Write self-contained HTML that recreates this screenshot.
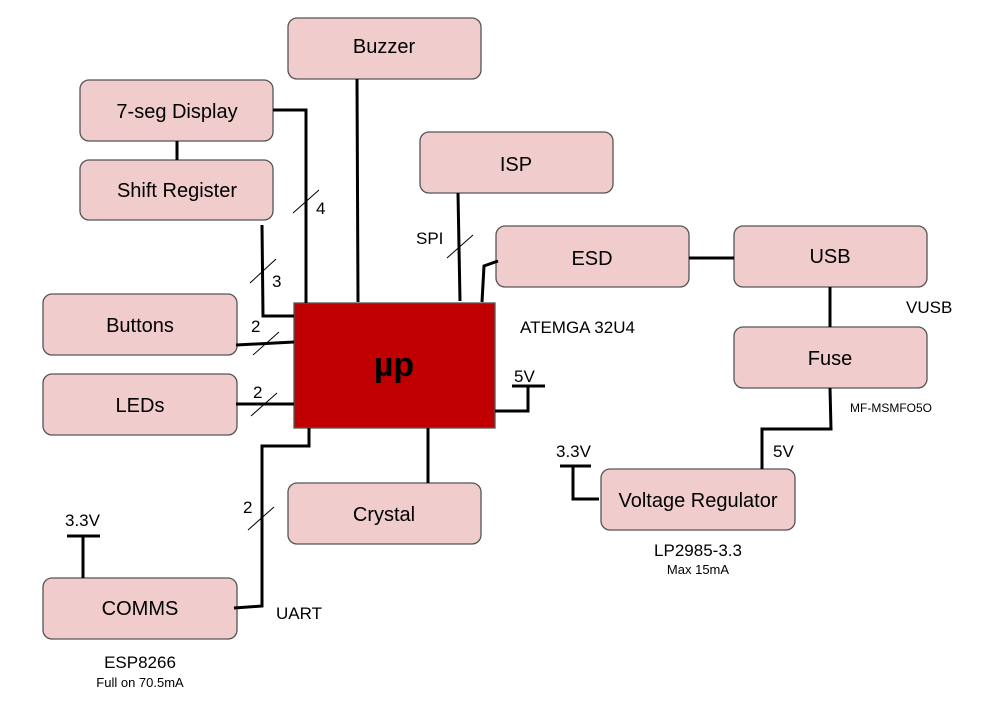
<!DOCTYPE html>
<html><head><meta charset="utf-8"><style>
html,body{margin:0;padding:0;background:#fff;width:981px;height:704px;overflow:hidden}
svg text{font-family:"Liberation Sans",Arial,sans-serif;fill:#000}
</style></head><body>
<svg width="981" height="704" viewBox="0 0 981 704" xmlns="http://www.w3.org/2000/svg">
<g fill="#f0cccc" stroke="#555" stroke-width="1.3">
<rect x="288" y="18" width="193" height="61" rx="9"/>
<rect x="80" y="80" width="193" height="61" rx="9"/>
<rect x="80" y="160" width="193" height="60" rx="9"/>
<rect x="420" y="132" width="193" height="61" rx="9"/>
<rect x="496" y="226" width="193" height="61" rx="9"/>
<rect x="734" y="226" width="193" height="61" rx="9"/>
<rect x="734" y="327" width="193" height="61" rx="9"/>
<rect x="43" y="294" width="194" height="61" rx="9"/>
<rect x="43" y="374" width="194" height="61" rx="9"/>
<rect x="288" y="483" width="193" height="61" rx="9"/>
<rect x="43" y="578" width="194" height="61" rx="9"/>
<rect x="601" y="469" width="194" height="61" rx="9"/>
</g>
<rect x="294" y="303" width="201" height="125" fill="#c00000" stroke="#555" stroke-width="1.3"/>
<g fill="none" stroke="#000" stroke-width="3">
<polyline points="273,110 306,110 306,303"/>
<polyline points="262,225 263,316 294,316"/>
<line x1="357" y1="79" x2="358" y2="302"/>
<line x1="458" y1="193" x2="460" y2="301"/>
<polyline points="498,261 484,266 482,302"/>
<line x1="689" y1="258" x2="734" y2="258"/>
<line x1="830" y1="287" x2="830" y2="327"/>
<polyline points="830,388 831,429 762,429 762,469"/>
<polyline points="599,499 573,499 573,466"/>
<line x1="560" y1="466" x2="591" y2="466"/>
<polyline points="495,411 528,411 528,386"/>
<line x1="512" y1="386" x2="545" y2="386"/>
<line x1="236" y1="345" x2="294" y2="342"/>
<line x1="236" y1="404" x2="294" y2="404"/>
<line x1="428" y1="428" x2="428" y2="483"/>
<polyline points="234,608 262,606 262,446 309,446 309,428"/>
<polyline points="83,578 83,536"/>
<line x1="67" y1="536" x2="100" y2="536"/>
<line x1="177" y1="141" x2="177" y2="160"/>
</g>
<g stroke="#000" stroke-width="1">
<line x1="293" y1="213" x2="319" y2="190"/>
<line x1="250" y1="283" x2="276" y2="259"/>
<line x1="447" y1="258" x2="473" y2="235"/>
<line x1="253" y1="355" x2="279" y2="332"/>
<line x1="251" y1="416" x2="277" y2="393"/>
<line x1="248" y1="530" x2="274" y2="507"/>
</g>
<g font-size="20" text-anchor="middle">
<text x="384" y="53">Buzzer</text>
<text x="177" y="118">7-seg Display</text>
<text x="177" y="197">Shift Register</text>
<text x="516" y="171">ISP</text>
<text x="592" y="265">ESD</text>
<text x="830" y="263">USB</text>
<text x="830" y="365">Fuse</text>
<text x="140" y="332">Buttons</text>
<text x="140" y="412">LEDs</text>
<text x="384" y="521">Crystal</text>
<text x="140" y="615">COMMS</text>
<text x="698" y="507">Voltage Regulator</text>
</g>
<text x="394" y="376" font-size="34" font-weight="bold" text-anchor="middle">µp</text>
<g font-size="17">
<text x="316" y="214">4</text>
<text x="272" y="287">3</text>
<text x="416" y="244">SPI</text>
<text x="251" y="332">2</text>
<text x="253" y="398">2</text>
<text x="243" y="513">2</text>
<text x="276" y="619">UART</text>
<text x="520" y="333">ATEMGA 32U4</text>
<text x="906" y="313">VUSB</text>
<text x="773" y="457">5V</text>
<text x="556" y="457">3.3V</text>
<text x="514" y="382">5V</text>
<text x="65" y="526">3.3V</text>
</g>
<text x="850" y="412" font-size="12">MF-MSMFO5O</text>
<g text-anchor="middle">
<text x="698" y="556" font-size="17">LP2985-3.3</text>
<text x="698" y="574" font-size="13">Max 15mA</text>
<text x="140" y="668" font-size="17">ESP8266</text>
<text x="140" y="687" font-size="13">Full on 70.5mA</text>
</g>
</svg>
</body></html>
